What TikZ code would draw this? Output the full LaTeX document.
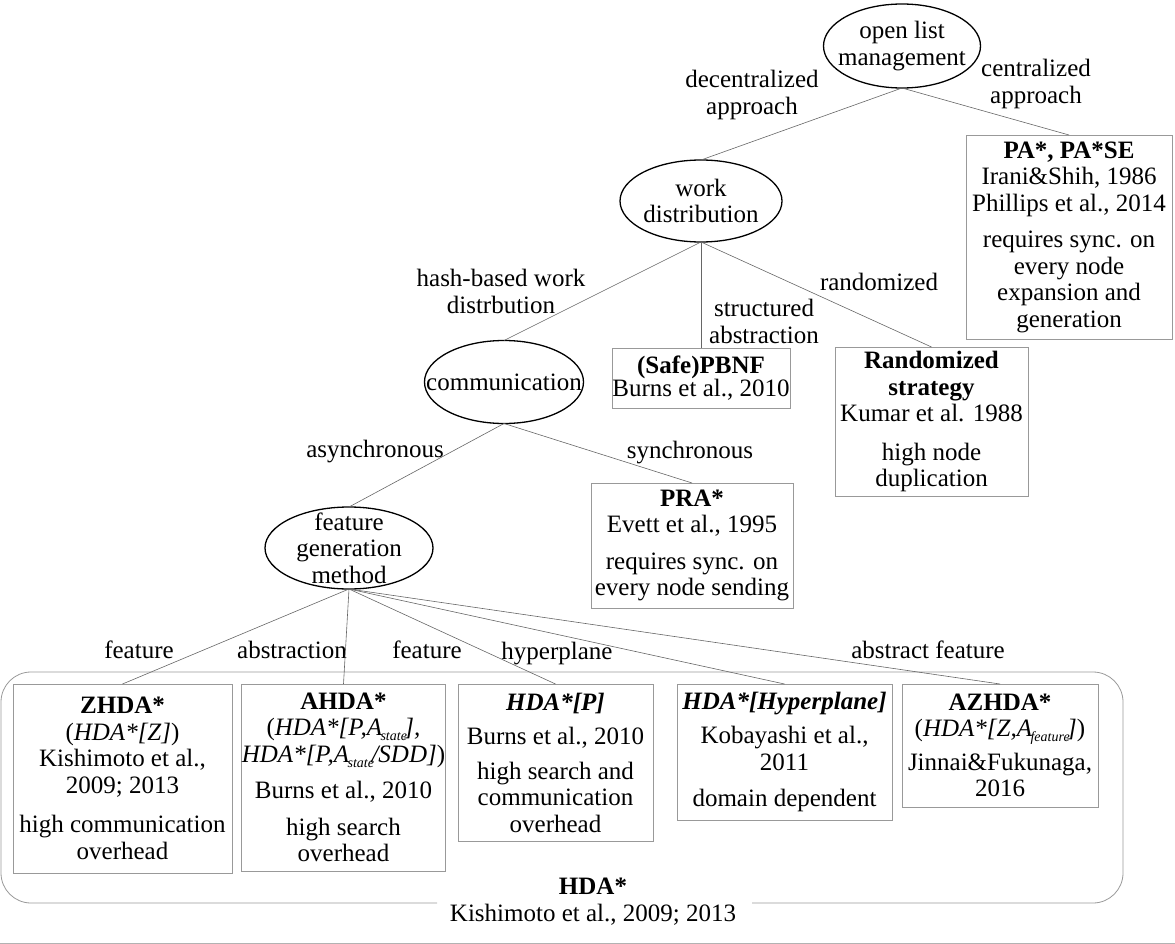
\documentclass[tikz,border=0pt]{standalone}
\usepackage{fontspec}
\setmainfont{Liberation Serif}
\usetikzlibrary{shapes.geometric}
\newcommand{\mysbs}[1]{\kern-1.5pt\raisebox{-0.2em}{\fontsize{14}{14}\selectfont\itshape #1}\kern-2.5pt}
\begin{document}
\begin{tikzpicture}[x=1pt,y=-1pt,
  every node/.style={font=\fontsize{25}{26.5}\selectfont, align=center, inner sep=0pt, outer sep=0pt},
  ell/.style={draw=black, line width=1.3pt, ellipse},
  bx/.style={draw=black!40, line width=0.8pt, rectangle},
  conn/.style={draw=black!60, line width=0.6pt},
  lbl/.style={}]
\useasboundingbox (0,0) rectangle (1175,944);

% ellipses
\node[ell, minimum width=157pt, minimum height=84pt, label={center:open list\\management}] (olm) at (902,46) {};
\node[ell, minimum width=162pt, minimum height=82pt, label={center:work\\distribution}] (wd) at (701,201) {};
\node[ell, minimum width=159pt, minimum height=83pt, label={center:communication}] (comm) at (504,382) {};
\node[ell, minimum width=168pt, minimum height=82pt, label={center:feature\\generation\\method}] (fgm) at (349,548) {};

% boxes
\node[bx, minimum width=206pt, minimum height=204pt] (pa) at (1069,237)
  {\textbf{PA*, PA*SE}\\ Irani\&Shih, 1986\\ Phillips et al., 2014\\[10pt] requires sync. on\\ every node\\ expansion and\\ generation};
\node[bx, minimum width=178pt, minimum height=60pt] (pbnf) at (701,378)
  {\textbf{(Safe)PBNF}\\[-3pt] Burns et al., 2010};
\node[bx, minimum width=193pt, minimum height=149pt] (rand) at (931.5,421.5)
  {\textbf{Randomized}\\ \textbf{strategy}\\ Kumar et al. 1988\\[12pt] high node\\ duplication};
\node[bx, minimum width=202pt, minimum height=125pt] (pra) at (692,545.5)
  {\textbf{PRA*}\\ Evett et al., 1995\\[10pt] requires sync. on\\ every node sending};

\node[bx, minimum width=219pt, minimum height=189pt] (zhda) at (122.5,778.5)
  {\textbf{ZHDA*}\\ (\textit{HDA*[Z]})\\ Kishimoto et al.,\\ 2009; 2013\\[13pt] high communication\\ overhead};
\node[bx, minimum width=203pt, minimum height=187pt] (ahda) at (343.5,777.5)
  {\textbf{AHDA*}\\ (\textit{HDA*[P,A\mysbs{state}],}\\ \textit{HDA*[P,A\mysbs{state}/SDD]})\\[10pt] Burns et al., 2010\\[10pt] high search\\ overhead};
\node[bx, minimum width=195pt, minimum height=157pt] (hdap) at (555.5,762.5)
  {\textbf{\textit{HDA*[P]}}\\[8pt] Burns et al., 2010\\[8pt] high search and\\ communication\\ overhead};
\node[bx, minimum width=215pt, minimum height=136pt] (hyp) at (784.5,752)
  {\textbf{\textit{HDA*[Hyperplane]}}\\[8pt] Kobayashi et al.,\\ 2011\\[10pt] domain dependent};
\node[bx, minimum width=196pt, minimum height=123pt] (azhda) at (1000,745.5)
  {\textbf{AZHDA*}\\ (\textit{HDA*[Z,A\mysbs{feature}]})\\[7pt] Jinnai\&Fukunaga,\\ 2016};

% group frame
\node[lbl] (hda) at (593,901.5) {\textbf{HDA*}\\ Kishimoto et al., 2009; 2013};
\draw[bx, rounded corners=30pt] (437,903) -- (1,903) -- (1,672) -- (1123,672) -- (1123,903) -- (752,903);
\draw[draw=black!30, line width=0.8pt] (0,943) -- (1175,943);

% edge labels
\node[lbl] (l1) at (752,95) {decentralized\\approach};
\node[lbl] (l2) at (1036,84) {centralized\\approach};
\node[lbl] (l3) at (501,291.5) {hash-based work\\distrbution};
\node[lbl] (l4) at (764,321.5) {structured\\abstraction};
\node[lbl] (l5) at (879,282) {randomized};
\node[lbl] (l6) at (375,452) {asynchronous};
\node[lbl] (l7) at (690,453) {synchronous};
\node[lbl] (l8) at (139,650) {feature};
\node[lbl] (l9) at (292,650) {abstraction};
\node[lbl] (l10) at (427,650) {feature};
\node[lbl] (l11) at (557,654) {hyperplane};
\node[lbl] (l12) at (928,650) {abstract feature};

% connectors
\draw[conn] (olm.south) -- (wd.north);
\draw[conn] (olm.south) -- (pa.north);
\draw[conn] (wd.south) -- (comm.north);
\draw[conn] (wd.south) -- (pbnf.north);
\draw[conn] (wd.south) -- (rand.north);
\draw[conn] (comm.south) -- (fgm.north);
\draw[conn] (comm.south) -- (pra.north);
\draw[conn] (fgm.south) -- (zhda.north);
\draw[conn] (fgm.south) -- (ahda.north);
\draw[conn] (fgm.south) -- (hdap.north);
\draw[conn] (fgm.south) -- (hyp.north);
\draw[conn] (fgm.south) -- (azhda.north);
\end{tikzpicture}
\end{document}
